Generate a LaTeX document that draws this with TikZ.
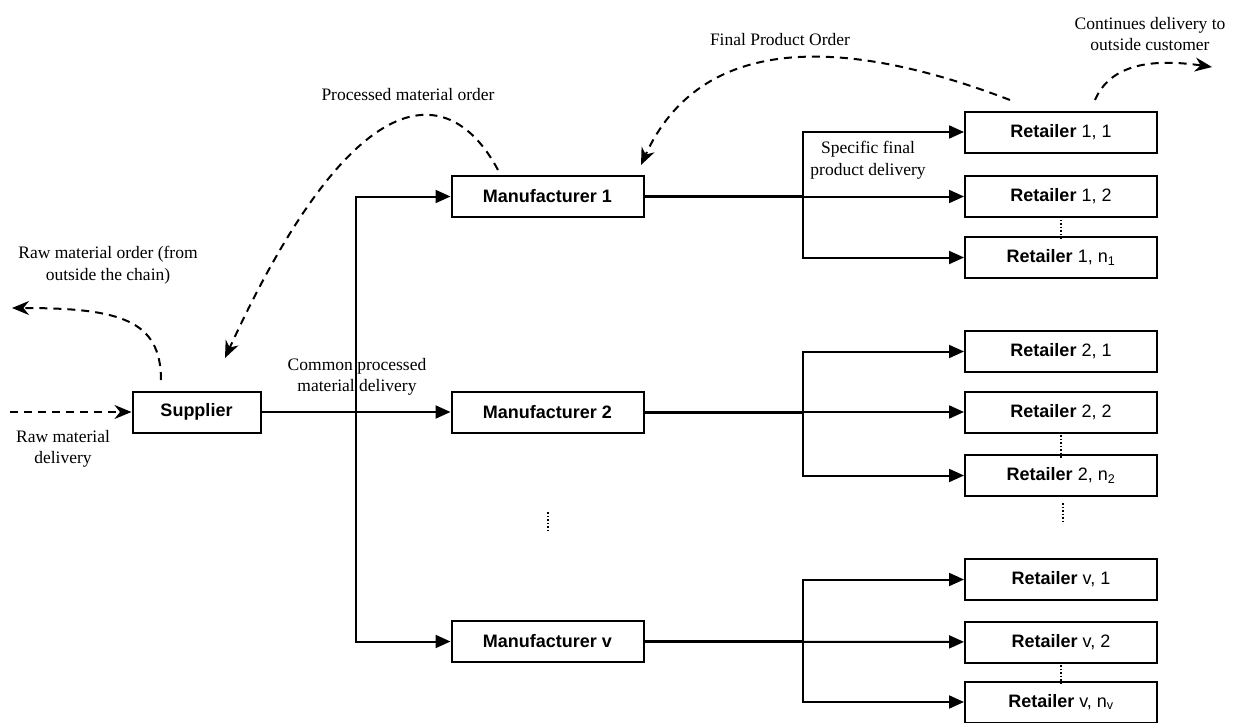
\documentclass[tikz,border=0pt]{standalone}
\usepackage{fontspec}
\setmainfont{Liberation Serif}
\setsansfont{Liberation Sans}
\usetikzlibrary{arrows.meta}

\begin{document}
\begin{tikzpicture}[x=1pt,y=-1pt,
    box/.style={draw,line width=2pt,minimum width=192pt,minimum height=41pt,inner sep=0pt,
      font=\sffamily\fontsize{18}{21}\selectfont},
    lbl/.style={align=center,inner sep=0pt,font=\fontsize{17.5}{21.5}\selectfont},
    flow/.style={line width=2pt,-{Triangle[length=15pt,width=13pt]}},
    main/.style={line width=3pt},
    order/.style={line width=2pt,dash pattern=on 8pt off 6pt,-{Stealth[length=17pt,width=14pt]}},
    vdots/.style={line width=1.2pt,dash pattern=on 1.5pt off 2pt}]
  \useasboundingbox (0,0) rectangle (1243,723);
  \draw
    (196.5,412) node[box,minimum width=128pt] (sup) {\bfseries Supplier}
    (547.5,196.5) node[box] (m1) {\bfseries Manufacturer 1}
    (547.5,412) node[box] (m2) {\bfseries Manufacturer 2}
    (547.5,641.5) node[box] (mv) {\bfseries Manufacturer v}
    (1061,132) node[box] (r11) {\textbf{Retailer} 1, 1}
    (1061,196.5) node[box] (r12) {\textbf{Retailer} 1, 2}
    (1061,257.5) node[box] (r1n) {\textbf{Retailer} 1, n\textsubscript{1}}
    (1061,351.5) node[box] (r21) {\textbf{Retailer} 2, 1}
    (1061,412) node[box] (r22) {\textbf{Retailer} 2, 2}
    (1061,475.5) node[box] (r2n) {\textbf{Retailer} 2, n\textsubscript{2}}
    (1061,579.5) node[box] (rv1) {\textbf{Retailer} v, 1}
    (1061,642) node[box] (rv2) {\textbf{Retailer} v, 2}
    (1061,702) node[box] (rvn) {\textbf{Retailer} v, n\textsubscript{v}};
  \draw
    (63,449) node[lbl] (rmd) {Raw material\\delivery}
    (108,265) node[lbl] (rmo) {Raw material order (from\\outside the chain)}
    (357,377) node[lbl] (cpm) {Common processed\\material delivery}
    (408,95) node[lbl] (pmo) {Processed material order}
    (780,40) node[lbl] (fpo) {Final Product Order}
    (868,160) node[lbl] (sfp) {Specific final\\product delivery}
    (1150,34) node[lbl] (cdo) {Continues delivery to\\outside customer};
  \coordinate (s) at (356,412);
  \coordinate (b1) at (803,196.5);
  \coordinate (b2) at (803,412);
  \coordinate (bv) at (803,641.5);
  \coordinate (rawin) at (10,412);
  \coordinate (rawout) at (12,308);
  \coordinate (supin) at (161,380);
  \coordinate (m1out) at (498,170);
  \coordinate (supord) at (225,358);
  \coordinate (r11out) at (1010,100);
  \coordinate (m1ord) at (641,165);
  \coordinate (r11del) at (1095,100);
  \coordinate (custom) at (1212,67);
  \coordinate (d1) at (548,512);
  \coordinate (d2) at (548,532);
  \coordinate (d3) at (1063,503);
  \coordinate (d4) at (1063,524);
  \begin{scope}[flow]
    \draw (sup) -- (m2);
    \draw (s) |- (m1);
    \draw (s) |- (mv);
    \draw (b1) |- (r11);
    \draw (b1) |- (r1n);
    \draw (b2) |- (r21);
    \draw (b2) |- (r2n);
    \draw (bv) |- (rv1);
    \draw (bv) |- (rvn);
    \draw (m1) -- (r12);
    \draw (m2) -- (r22);
    \draw (mv) -- (rv2);
  \end{scope}
  \draw[main] (m1.east) -- (b1);
  \draw[main] (m2.east) -- (b2);
  \draw[main] (mv.east) -- (bv);
  \begin{scope}[order]
    \draw (rawin) -- (sup);
    \draw (supin) .. controls (161,320) and (120,308) .. (rawout);
    \draw (m1out) .. controls (450,80) and (355,75) .. (supord);
    \draw (r11out) .. controls (840,35) and (700,35) .. (m1ord);
    \draw (r11del) .. controls (1110,65) and (1150,58) .. (custom);
  \end{scope}
  \begin{scope}[vdots]
    \draw ([yshift=2pt]r12.south) -- ([yshift=-4pt]r1n.north);
    \draw ([yshift=2pt]r22.south) -- ([yshift=-4pt]r2n.north);
    \draw ([yshift=2pt]rv2.south) -- ([yshift=-4pt]rvn.north);
    \draw (d1) -- (d2);
    \draw (d3) -- (d4);
  \end{scope}
\end{tikzpicture}
\end{document}
